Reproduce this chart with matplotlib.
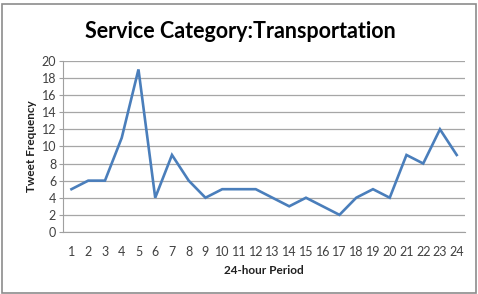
import numpy as np
import matplotlib
matplotlib.use("Agg")
import matplotlib.pyplot as plt
from matplotlib.patches import Rectangle

# данные с графика
hours = list(range(1, 25))
tweets = [5, 6, 6, 11, 19, 4, 9, 6, 4, 5, 5, 5, 4, 3, 4, 3, 2, 4, 5, 4, 9, 8, 12, 9]
y_ticks = list(range(0, 21, 2))

plt.rcParams['font.family'] = ['Lato', 'DejaVu Sans']

fig = plt.figure(figsize=(4.78, 2.94), dpi=100)
fig.patches.append(Rectangle((0.004, 0.004), 0.992, 0.982, transform=fig.transFigure,
                             fill=False, edgecolor='#8c8c8c', linewidth=1.2))

ax = fig.add_axes([0.132, 0.211, 0.841, 0.582])
ax.plot(hours, tweets, color='#4a7ebb', linewidth=1.9, solid_joinstyle='miter')

ax.set_xlim(0.5, 24.5)
ax.set_ylim(0, 20)
ax.set_xticks(hours)
ax.set_xticklabels([str(h) for h in hours], fontsize=9, color='#404040')
ax.set_yticks(y_ticks)
ax.set_yticklabels([str(v) for v in y_ticks], fontsize=9, color='#404040')
ax.tick_params(axis='x', length=0, pad=10)
ax.tick_params(axis='y', length=3, color='#a0a0a0', pad=2)
ax.grid(axis='y', color='#a6a6a6', linewidth=0.9)
ax.set_axisbelow(True)

for s in ['top', 'right']:
    ax.spines[s].set_visible(False)
ax.spines['left'].set_color('#a0a0a0')
ax.spines['bottom'].set_color('#a0a0a0')

ax.set_xlabel("24-hour Period", fontsize=8.5, fontweight='bold', color='#202020', labelpad=5)
ax.set_ylabel("Tweet Frequency", fontsize=8.5, fontweight='bold', color='#202020', labelpad=3)

fig.text(0.502, 0.892, "Service Category:Transportation", ha='center', va='center',
         fontsize=15.5, fontweight='bold', color='black')

fig.savefig("out.png", dpi=100)
